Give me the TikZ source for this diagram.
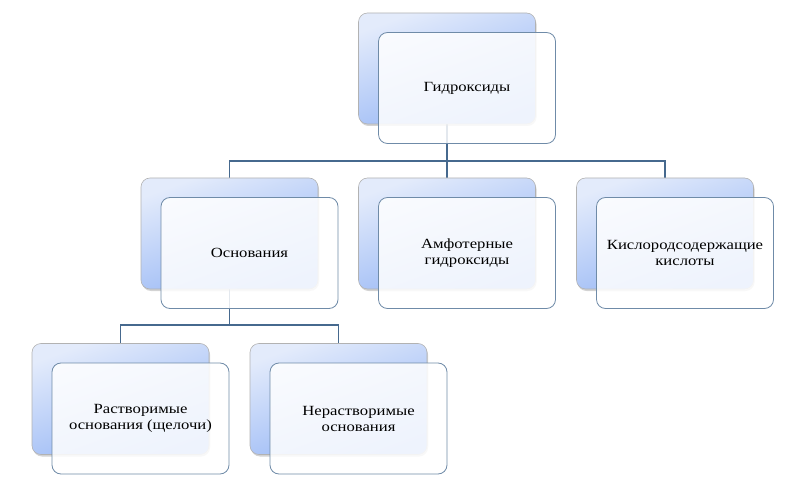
\documentclass[tikz,border=0pt]{standalone}
\usepackage{fontspec}
\setmainfont{Liberation Serif}[FakeStretch=1.19]
\usetikzlibrary{shadows,backgrounds}
\definecolor{linkblue}{HTML}{46698E}
\definecolor{frameblue}{HTML}{6F8BA8}
\definecolor{backtop}{HTML}{E3EBFB}
\definecolor{backbot}{HTML}{93B4F5}
\tikzset{
  backbox/.style={rectangle, rounded corners=9pt, draw=gray!60, line width=0.6pt,
    top color=backtop, bottom color=backbot, shading angle=20,
    minimum width=177pt, minimum height=111pt,
    drop shadow={opacity=0.35, shadow xshift=1pt, shadow yshift=-2pt}},
  frontbox/.style={rectangle, rounded corners=9pt, draw=frameblue, line width=0.8pt,
    fill=white, fill opacity=0.85, text opacity=1, align=center,
    minimum width=177pt, minimum height=111pt,
    font=\fontsize{14}{16}\selectfont},
  link/.style={draw=linkblue, line width=1.8pt}
}
\begin{document}
\begin{tikzpicture}[x=1pt, y=-1pt]
    \useasboundingbox (0,0) rectangle (810,502);
    % back boxes
    \node[backbox] (hydrB) at (447,68.5) {};
    \node[backbox] (baseB) at (229.5,233.5) {};
    \node[backbox] (amphB) at (447,233.5) {};
    \node[backbox] (acidB) at (665,233.5) {};
    \node[backbox] (solB) at (120.5,399) {};
    \node[backbox] (insolB) at (338.5,399) {};
    % connectors
    \begin{scope}[on background layer]
      \coordinate (j1) at (447,161);
      \coordinate (j2) at (229.5,325);
      \draw[link] (hydrB.south) -- (j1);
      \draw[link] (j1) -| (baseB.north);
      \draw[link] (j1) -| (acidB.north);
      \draw[link] (j1) -- (amphB.north);
      \draw[link] (baseB.south) -- (j2);
      \draw[link] (j2) -| (solB.north);
      \draw[link] (j2) -| (insolB.north);
    \end{scope}
    % front boxes
    \node[frontbox] (hydr) at ([shift={(20,19.5)}]hydrB.center) {Гидроксиды};
    \node[frontbox] (base) at ([shift={(20,19.5)}]baseB.center) {Основания};
    \node[frontbox] (amph) at ([shift={(20,19.5)}]amphB.center) {Амфотерные\\гидроксиды};
    \node[frontbox] (acid) at ([shift={(20,19.5)}]acidB.center) {Кислородсодержащие\\кислоты};
    \node[frontbox] (sol) at ([shift={(20,19.5)}]solB.center) {Растворимые\\основания (щелочи)};
    \node[frontbox] (insol) at ([shift={(20,19.5)}]insolB.center) {Нерастворимые\\основания};
\end{tikzpicture}
\end{document}
